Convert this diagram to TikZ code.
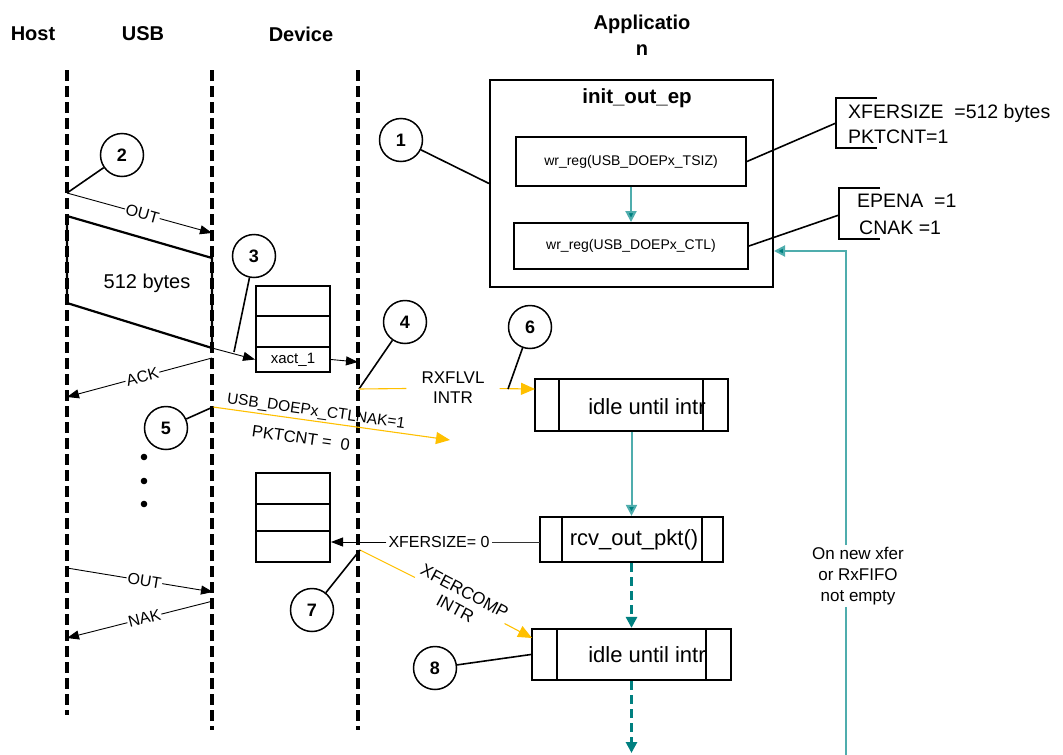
\documentclass[tikz,border=0pt]{standalone}
\usepackage{fontspec}
\setmainfont{Liberation Sans}
\usetikzlibrary{arrows.meta}
\definecolor{ylw}{HTML}{FFC000}
\definecolor{tealD}{HTML}{008080}
\definecolor{tealL}{HTML}{4FADAD}
\begin{document}
\begin{tikzpicture}[x=1pt,y=-1pt,
  life/.style={line width=3.2pt, dash pattern=on 11pt off 5pt},
  hdr/.style={font=\fontsize{20}{26}\selectfont\bfseries, align=center},
  num/.style={circle, draw, line width=1.5pt, minimum size=43pt, inner sep=0pt, font=\fontsize{18}{20}\selectfont\bfseries},
  lead/.style={line width=1.6pt},
  msg/.style={line width=0.9pt, -{Triangle[length=12pt,width=9pt]}},
  pkt/.style={line width=2.2pt},
  lbl/.style={font=\fontsize{#1}{#1}\selectfont, inner sep=1pt},
  lbl/.default=16,
  yel/.style={draw=ylw, line width=1.1pt, -{Triangle[length=14pt,width=12pt,fill=ylw]}},
  cell/.style={draw, line width=1.9pt, minimum width=74pt, inner sep=0pt},
  regbox/.style={draw, line width=1.9pt, inner sep=0pt, font=\fontsize{14}{14}\selectfont},
  proc/.style={draw, line width=2.2pt, inner sep=0pt},
  tarr/.style={draw=tealL, line width=2pt, -{Triangle[length=11pt,width=11pt,fill=tealD]}},
  tdash/.style={draw=tealD, line width=2.8pt, dash pattern=on 9pt off 5pt, -{Triangle[length=11pt,width=11pt,fill=tealD]}},
  brk/.style={line width=1.9pt},
  brtxt/.style={font=\fontsize{19.5}{19.5}\selectfont, anchor=west, inner sep=0pt}
]
\useasboundingbox (0,0) rectangle (1063,755);

% headers
\node[hdr] (hhost) at (33,34) {Host};
\node[hdr] (husb) at (143,34) {USB};
\node[hdr] (hdev) at (301,34) {Device};
\node[hdr] (happ) at (642,35) {Applicatio\\n};

% lifelines
\coordinate (h0) at (67,70);  \coordinate (h1) at (67,715);
\coordinate (u0) at (212,70); \coordinate (u1) at (212,730);
\coordinate (d0) at (358,70); \coordinate (d1) at (358,730);
\draw[life] (h0) -- (h1);
\draw[life] (u0) -- (u1);
\draw[life] (d0) -- (d1);

% application init box
\node[draw, line width=1.9pt, minimum width=283pt, minimum height=207pt, inner sep=0pt] (app) at (631.5,183.5) {};
\node[font=\fontsize{20.5}{20.5}\selectfont\bfseries] (iname) at (637,98) {init\_out\_ep};
\node[regbox, minimum width=230pt, minimum height=49pt] (b1) at (631,161.5) {wr\_reg(USB\_DOEPx\_TSIZ)};
\node[regbox, minimum width=234pt, minimum height=46pt] (b2) at (631,246) {wr\_reg(USB\_DOEPx\_CTL)};
\draw[tarr] (b1.south) -- (b2.north);

% circle 1
\node[num] (c1) at (401,140) {1};
\draw[lead] (c1) -- (app.west);

% brackets
\draw[brk] (877,98) -- (836,98) -- (836,148) -- (877,148);
\coordinate (br1) at (836,123);
\node[brtxt] (t1a) at (848,113) {XFERSIZE\ \ =512 bytes};
\node[brtxt] (t1b) at (848,137) {PKTCNT=1};
\draw[lead] (b1.east) -- (br1);
\draw[brk] (880,188) -- (839,188) -- (839,239) -- (880,239);
\coordinate (br2) at (839,215);
\node[brtxt] (t2a) at (857,201) {EPENA\ \ =1};
\node[brtxt] (t2b) at (859,228) {CNAK =1};
\draw[lead] (b2.east) -- (br2);

% feedback loop
\coordinate (fb0) at (846,755);
\coordinate (fb1) at (846,607);
\coordinate (fb2) at (846,545);
\coordinate (fb3) at (846,251);
\coordinate (fbA) at (774,251);
\node[font=\fontsize{17}{21}\selectfont, align=center] (fbt) at (858,576) {On new xfer\\or RxFIFO\\not empty};
\draw[draw=tealL, line width=2pt] (fb0) -- (fb1);
\draw[tarr] (fb2) -- (fb3) -- (fbA);

% process boxes
\node[proc, minimum width=193pt, minimum height=52pt] (p1) at (631.5,405) {};
\draw[line width=2.2pt] (559,379) -- (559,431) (703,379) -- (703,431);
\node[font=\fontsize{22}{22}\selectfont] (p1t) at (647,407) {idle until intr};
\node[proc, minimum width=183pt, minimum height=45pt] (p2) at (631.5,539.5) {};
\draw[line width=2.2pt] (562,517) -- (562,562) (702,517) -- (702,562);
\node[font=\fontsize{22}{22}\selectfont] (p2t) at (634,540) {rcv\_out\_pkt()};
\node[proc, minimum width=199pt, minimum height=51pt] (p3) at (631.5,654.5) {};
\draw[line width=2.2pt] (557,629) -- (557,680) (706,629) -- (706,680);
\node[font=\fontsize{22}{22}\selectfont] (p3t) at (647,655) {idle until intr};
\coordinate (pend) at (631.5,753);
\draw[tarr] (p1.south) -- (p2.north);
\draw[tdash] (p2.south) -- (p3.north);
\draw[tdash] (p3.south) -- (pend);

% FIFO stacks
\node[cell, minimum height=30pt] (f1) at (293,301) {};
\node[cell, minimum height=31pt] (f2) at (293,331.5) {};
\node[cell, minimum height=25pt, font=\fontsize{15}{15}\selectfont] (f3) at (293,359.5) {xact\_1};
\node[cell, minimum height=31pt] (g1) at (293,488.5) {};
\node[cell, minimum height=27pt] (g2) at (293,517.5) {};
\node[cell, minimum height=31pt] (g3) at (293,546.5) {};

% host -> USB OUT
\coordinate (o1a) at (67,193); \coordinate (o1b) at (212,233);
\draw[msg] (o1a) -- node[lbl, sloped, fill=white, pos=0.52] (o1t) {OUT} (o1b);
\node[num] (c2) at (122,155) {2};
\draw[lead] (c2) -- (o1a);

% data packet
\coordinate (pk1) at (67,216); \coordinate (pk2) at (212,258);
\coordinate (pk3) at (212,348); \coordinate (pk4) at (67,303);
\draw[pkt] (pk1) -- (pk2) -- (pk3) -- (pk4) -- cycle;
\node[lbl=20] (pkt) at (147,283) {512 bytes};
\draw[msg] (pk3) -- (f3.west);
\coordinate (dv1) at (358,362);
\draw[msg] (f3.east) -- (dv1);
\node[num] (c3) at (254,256) {3};
\coordinate (c3e) at (234,352);
\draw[lead] (c3) -- (c3e);

% ACK
\coordinate (ak1) at (212,358); \coordinate (ak2) at (67,397);
\draw[msg] (ak1) -- node[lbl, sloped, fill=white, pos=0.48] (akt) {ACK} (ak2);

% RXFLVL interrupt
\node[num] (c4) at (405,322) {4};
\coordinate (y4) at (359,389);
\draw[lead] (c4) -- (y4);
\node[font=\fontsize{17}{20}\selectfont, align=center, inner xsep=15pt, inner ysep=0pt] (rx) at (453,388) {RXFLVL\\INTR};
\coordinate (p1in) at (535,389);
\draw[yel] (y4) -- (rx) -- (p1in);
\node[num] (c6) at (530,327) {6};
\coordinate (c6e) at (508,389);
\draw[lead] (c6) -- (c6e);

% NAK set
\coordinate (n5a) at (213,407); \coordinate (n5b) at (450,440);
\draw[yel] (n5a) -- (n5b);
\node[lbl=15.5, rotate=-8] (n5t1) at (316,412) {USB\_DOEPx\_CTLNAK=1};
\node[lbl=16.5, rotate=-8] (n5t2) at (301,438) {PKTCNT =\ \ 0};
\node[num] (c5) at (166,428) {5};
\draw[lead] (c5) -- (n5a);

% dots
\fill (144,457) circle (3.3pt);
\fill (144,481) circle (3.3pt);
\fill (144,504) circle (3.3pt);

% XFERSIZE = 0
\coordinate (xsA) at (540,542);
\coordinate (xsB) at (331,542);
\node[lbl, fill=white, inner xsep=2pt] (xst) at (439,542) {XFERSIZE=\ 0};
\draw[line width=0.9pt, draw=black!80] (xsA) -- (xst);
\draw[msg] (xst) -- (xsB);

% XFERCOMP interrupt
\coordinate (y7) at (360,550);
\coordinate (p3in) at (532,638);
\node[font=\fontsize{17}{20}\selectfont, align=center, rotate=-28, inner xsep=2pt, inner ysep=0pt] (xc) at (460,600) {XFERCOMP\\INTR};
\draw[yel] (y7) -- (xc) -- (p3in);
\node[num] (c7) at (312,610) {7};
\draw[lead] (c7) -- (y7);
\node[num] (c8) at (435,668) {8};
\draw[lead] (c8) -- (p3.west);

% second OUT / NAK
\coordinate (o2a) at (67,568); \coordinate (o2b) at (213,592);
\draw[msg] (o2a) -- node[lbl, sloped, fill=white, pos=0.53] (o2t) {OUT} (o2b);
\coordinate (nk1) at (213,601); \coordinate (nk2) at (67,638);
\draw[msg] (nk1) -- node[lbl, sloped, fill=white, pos=0.47] (nkt) {NAK} (nk2);
\end{tikzpicture}
\end{document}
